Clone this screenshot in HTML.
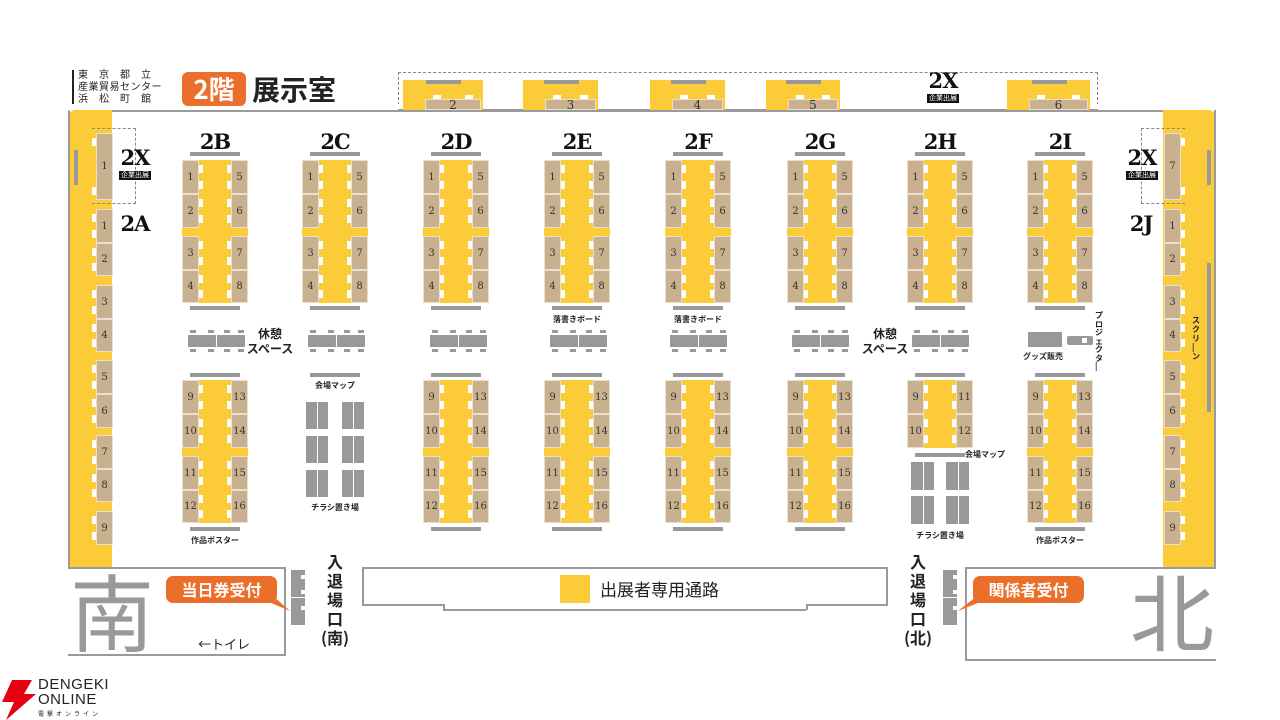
<!DOCTYPE html>
<html><head><meta charset="utf-8">
<style>
*{margin:0;padding:0;box-sizing:border-box}
body{width:1280px;height:720px;background:#fff;position:relative;overflow:hidden;font-family:"Liberation Sans","Noto Sans CJK JP",sans-serif;color:#222}
.a{position:absolute}
.y{position:absolute;background:#FCCB38}
.t{position:absolute;background:#C9B190;border:1px solid #e9dfcf;font-family:"DejaVu Serif","Liberation Serif",serif;font-size:10px;color:#333;display:flex;align-items:center;justify-content:center}
.w{position:absolute;background:#fff}
.g{position:absolute;background:#999}
.lbl{position:absolute;font-family:"DejaVu Serif","Liberation Serif",serif;font-weight:bold;font-size:21px;color:#111;transform:translateX(-50%);letter-spacing:-1px}
.sm{position:absolute;font-size:8px;color:#222;white-space:nowrap;transform:translateX(-50%);font-family:"Noto Sans CJK JP",sans-serif;font-weight:bold}
.ln{position:absolute;background:#9a9a9a}
.badge{position:absolute;background:#111;color:#fff;font-size:7px;padding:0 2px;line-height:9px;transform:translateX(-50%);font-family:"Noto Sans CJK JP",sans-serif}
</style></head><body>
<div id="m"></div>
<script>
var h='';
function R(c,x,y,w,hh,extra,txt){h+='<div class="'+c+'" style="left:'+x+'px;top:'+y+'px;width:'+w+'px;height:'+hh+'px;'+(extra||'')+'">'+(txt||'')+'</div>';}
function T(c,x,y,txt,st){h+='<div class="'+c+'" style="left:'+x+'px;top:'+y+'px;'+(st||'')+'">'+txt+'</div>';}
R('a',68,110,1148,459,'border:2px solid #9a9a9a;border-bottom:none;border-radius:9px 9px 0 0');
R('y',68,110,44,459,'border-radius:8px 0 0 8px');
R('a',68,110,2,459,'background:#9a9a9a;border-radius:8px 0 0 0');
R('y',1163,110,53,459,'border-radius:0 8px 8px 0');
R('a',1214,110,2,459,'background:#9a9a9a');
R('g',74,150,4,35);R('g',1207,150,4,35);R('g',1207,263,4,149);
R('ln',68,567,218,2);R('ln',284,567,2,88);R('ln',68,654,218,2);
R('ln',362,567,526,2);R('ln',362,567,2,38);R('ln',362,604,81,2);R('ln',443,604,2,6);R('ln',443,609,363,2);R('ln',806,604,2,6);R('ln',806,604,82,2);R('ln',886,567,2,38);
R('ln',965,567,251,2);R('ln',965,567,2,93);R('ln',965,659,251,2);
function sideL(x,ys,nums,notchRight){for(var i=0;i<ys.length;i++){var y0=ys[i][0],y1=ys[i][1];R('t',x,y0,17,y1-y0,'',nums[i]);var nx=notchRight?x+17:x-4;R('w',nx,y0+5,4,8);R('w',nx,y1-13,4,8);}}
var ys=[[209,243],[243,276],[285,319],[319,352],[360,394],[394,428],[435,469],[469,502],[511,545]];
var ns=['1','2','3','4','5','6','7','8','9'];
sideL(96,ys,ns,false);sideL(1164,ys,ns,true);
sideL(96,[[133,200]],['1'],false);sideL(1164,[[133,200]],['7'],true);
R('y',96,200,16,9);R('y',1164,200,16,9);
R('a',92,128,44,76,'border:1.5px dashed #888;border-left:none');
R('a',1141,128,44,76,'border:1.5px dashed #888;border-right:none');
T('lbl',135,145,'2X');T('badge',135,171,'企業出展');T('lbl',135,211,'2A');
T('lbl',1142,145,'2X');T('badge',1142,171,'企業出展');T('lbl',1141,211,'2J');
R('a',398,72,700,38,'border:1.5px dashed #888;border-bottom:none');
R('w',398,104,700,7);
R('ln',398,109,700,2);
var tb=[[403,483,'2'],[523,598,'3'],[650,725,'4'],[766,840,'5'],[1007,1090,'6']];
tb.forEach(function(b){var x=b[0],w=b[1]-b[0];R('y',x,80,w,30);R('g',x+w/2-17,80,35,4);var tx=x+22;R('t',tx,99,w-24,11,'font-size:12px',b[2]);R('w',tx+8,95,8,4);R('w',tx+w-24-16,95,8,4);});
T('lbl',943,68,'2X');T('badge',943,94,'企業出展');
var cx=[215,335,456,577,698,820,940,1060],names=['2B','2C','2D','2E','2F','2G','2H','2I'];
function island(c,y0,rows,lnum,rnum){
 var L=c-33;var top=rows[0][0],bot=rows[rows.length-1][1];
 R('y',L+17,top,32,bot-top);
 rows.forEach(function(r,i){R('t',L,r[0],17,r[1]-r[0],'',lnum[i]);R('t',L+49,r[0],17,r[1]-r[0],'',rnum[i]);
  R('w',L+17,r[0]+5,4,8);R('w',L+17,r[1]-13,4,8);R('w',L+45,r[0]+5,4,8);R('w',L+45,r[1]-13,4,8);});
}
var up=[[160,194],[194,228],[236,270],[270,303]],lo=[[380,414],[414,448],[456,490],[490,523]];
cx.forEach(function(c,i){
 T('lbl',c,129,names[i]);
 R('g',c-25,152,50,4);R('g',c-25,306,50,4);
 island(c,160,up,['1','2','3','4'],['5','6','7','8']);R('y',c-33,228,66,8);
 if(i==1){R('g',c-25,373,50,4);}
 else if(i==6){R('g',c-25,373,50,4);island(c,380,[[380,414],[414,448]],['9','10'],['11','12']);R('g',c-25,453,50,4);}
 else{R('g',c-25,373,50,4);island(c,380,lo,['9','10','11','12'],['13','14','15','16']);R('y',c-33,448,66,8);R('g',c-25,527,50,4);}
});
function tbl(x){R('g',x,335,57,12);R('w',x+28,335,1,12);[2,20,36,50].forEach(function(o){R('g',x+o,330,6,3);R('g',x+o,349,6,3);});}
[188,308,430,550,670,792,912].forEach(tbl);
T('a',240,326,'休憩<br>スペース','font-size:12px;font-weight:bold;line-height:15px;text-align:center;width:60px;white-space:nowrap;font-family:Noto Sans CJK JP,sans-serif');
T('a',855,326,'休憩<br>スペース','font-size:12px;font-weight:bold;line-height:15px;text-align:center;width:60px;white-space:nowrap;font-family:Noto Sans CJK JP,sans-serif');
T('sm',577,314,'落書きボード');T('sm',698,314,'落書きボード');
R('g',1028,332,34,15);R('g',1067,336,26,9,'border-radius:2px');R('w',1082,338,5,5);
T('sm',1043,351,'グッズ販売');
T('a',1095,312,'プ<br>ロ<br>ジ<br>ェ<br>ク<br>タ<br>|','font-size:8px;line-height:8.5px;font-weight:bold;font-family:Noto Sans CJK JP,sans-serif');
T('a',1192,316,'ス<br>ク<br>リ<br>|<br>ン','font-size:8px;line-height:9px;font-weight:bold;font-family:Noto Sans CJK JP,sans-serif');
T('sm',335,380,'会場マップ');T('sm',985,449,'会場マップ');
function rack(x,y,w,hh){R('g',x,y,w,hh);R('w',x+w/2,y,1,hh);}
[402,436,470].forEach(function(y){rack(306,y,22,27);rack(342,y,22,27);});
[462,496].forEach(function(y){rack(911,y,23,28);rack(946,y,23,28);});
T('sm',335,502,'チラシ置き場');T('sm',940,530,'チラシ置き場');
T('sm',215,535,'作品ポスター');T('sm',1060,535,'作品ポスター');
R('g',291,570,14,55);R('w',291,597,14,1);R('w',301,575,4,4);R('w',301,590,4,4);R('w',301,606,4,4);
R('g',943,570,14,55);R('w',943,597,14,1);R('w',953,575,4,4);R('w',953,590,4,4);R('w',953,606,4,4);
T('a',320,552,'入<br>退<br>場<br>口<br>(南)','font-size:16px;line-height:19px;text-align:center;width:30px;font-family:Noto Sans CJK JP,sans-serif;font-weight:bold');
T('a',903,552,'入<br>退<br>場<br>口<br>(北)','font-size:16px;line-height:19px;text-align:center;width:30px;font-family:Noto Sans CJK JP,sans-serif;font-weight:bold');
T('a',166,576,'当日券受付','width:111px;height:27px;background:#EB6E2A;color:#fff;border-radius:7px;font-size:16px;font-weight:bold;text-align:center;line-height:27px;font-family:Noto Sans CJK JP,sans-serif');
h+='<svg class="a" style="left:255px;top:596px" width="40" height="20"><polygon points="0,0 18,0 35,15" fill="#EB6E2A"/></svg>';
T('a',973,576,'関係者受付','width:111px;height:27px;background:#EB6E2A;color:#fff;border-radius:7px;font-size:16px;font-weight:bold;text-align:center;line-height:27px;font-family:Noto Sans CJK JP,sans-serif');
h+='<svg class="a" style="left:955px;top:596px" width="40" height="20"><polygon points="40,0 22,0 3,15" fill="#EB6E2A"/></svg>';
T('a',70,562,'南','font-size:84px;color:#999;line-height:96px;font-family:Noto Sans CJK JP,sans-serif');
T('a',1130,562,'北','font-size:84px;color:#999;line-height:96px;font-family:Noto Sans CJK JP,sans-serif');
T('a',198,634,'←トイレ','font-size:13px;font-family:Noto Sans CJK JP,sans-serif');
R('y',560,575,30,28);
T('a',600,576,'出展者専用通路','font-size:17px;font-family:Noto Sans CJK JP,sans-serif;line-height:26px');
R('a',72,70,2,34,'background:#222');
T('a',78,68,'東　京　都　立<br>産業貿易センター<br>浜　松　町　館','font-size:10px;line-height:12px;font-family:Noto Sans CJK JP,sans-serif;letter-spacing:0.5px');
T('a',182,72,'2階','width:64px;height:34px;background:#EB6E2A;color:#fff;border-radius:6px;font-size:26px;font-weight:bold;text-align:center;line-height:34px;font-family:Noto Sans CJK JP,sans-serif');
T('a',252,70,'展示室','font-size:28px;font-weight:bold;line-height:38px;font-family:Noto Sans CJK JP,sans-serif');
h+='<svg class="a" style="left:0;top:678px" width="40" height="42"><polygon points="12,2 32,2 24,16 36,16 6,42 14,24 2,24" fill="#E60012"/></svg>';
T('a',38,677,'DENGEKI<br>ONLINE','font-size:15px;line-height:15px;font-family:Liberation Sans,sans-serif;color:#222;letter-spacing:0.5px');
T('a',38,709,'電撃オンライン','font-size:6px;letter-spacing:3px;font-family:Noto Sans CJK JP,sans-serif');
document.getElementById('m').innerHTML=h;
</script>
</body></html>
